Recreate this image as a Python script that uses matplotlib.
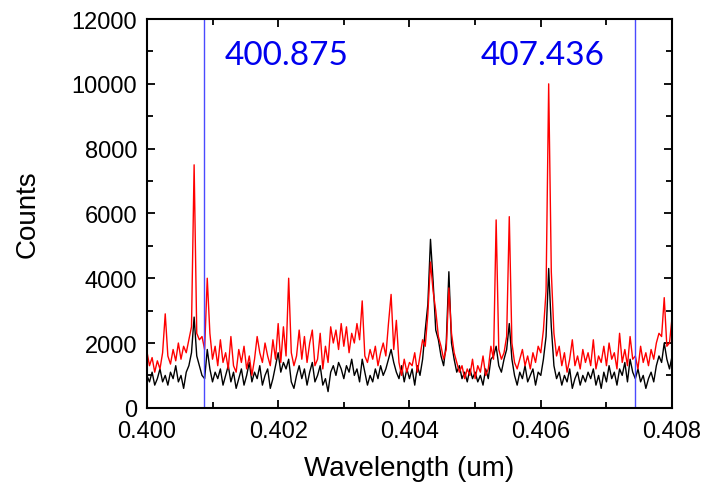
import numpy as np
import matplotlib
matplotlib.use("Agg")
import matplotlib.pyplot as plt
from matplotlib.ticker import MultipleLocator

# wavelength grid (um), one sample every 0.00004 um
wavelength = 0.400 + 0.00004 * np.arange(201)

red_counts = [
    1750, 1300, 1550, 1100, 1450, 1200, 1700, 2900, 1600, 1350,
    1800, 1450, 2000, 1500, 1900, 1700, 2100, 2500, 7500, 2300,
    2100, 2200, 1800, 4000, 2300, 1500, 1900, 1300, 2100, 1400,
    1700, 1200, 2200, 1300, 1100, 1800, 1400, 1900, 1200, 1600,
    1000, 1500, 2200, 1700, 1400, 2000, 1600, 1300, 2100, 1500,
    2600, 1400, 2500, 1600, 4000, 1700, 1300, 1600, 2400, 1500,
    2200, 1400, 2000, 2400, 1300, 1500, 2300, 1200, 1900, 1400,
    2500, 2000, 2400, 1800, 2600, 1900, 2500, 1700, 2300, 2000,
    2600, 2100, 3300, 1600, 1400, 1800, 1500, 1900, 1300, 1700,
    2000, 1600, 2600, 3500, 1800, 2700, 1400, 1000, 1500, 1100,
    1400, 1300, 1700, 1100, 1600, 2100, 1900, 2900, 4500, 3600,
    3000, 2200, 1900, 1500, 1800, 3700, 2300, 1700, 1400, 1100,
    1300, 900, 1200, 1000, 1500, 900, 1300, 1100, 1600, 1000,
    1200, 1900, 1500, 5800, 1800, 1500, 1700, 2200, 5900, 2000,
    1400, 1200, 1500, 1800, 1300, 1600, 1200, 1700, 1400, 1900,
    1700, 2400, 3600, 10000, 4200, 2300, 1600, 1900, 1300, 1700,
    1100, 1500, 2100, 1300, 1600, 1200, 1800, 1400, 1700, 1300,
    2100, 1200, 1600, 1400, 1900, 1300, 2000, 1500, 1700, 1200,
    2300, 1400, 1800, 1300, 2200, 1500, 1600, 1200, 1900, 1400,
    1700, 1300, 1800, 1500, 2000, 2300, 2200, 3400, 1900, 2000,
    2800,
]

black_counts = [
    1000, 800, 1100, 700, 900, 1200, 800, 1000, 700, 1100,
    900, 1300, 800, 1000, 600, 1100, 1300, 1700, 2800, 1600,
    1300, 1000, 900, 1800, 1200, 800, 1100, 900, 1200, 700,
    1000, 1300, 800, 1100, 600, 900, 1200, 700, 1000, 1400,
    800, 1100, 900, 1300, 700, 1000, 1200, 600, 900, 1300,
    1700, 1100, 1400, 1200, 1500, 800, 600, 1000, 1300, 900,
    1200, 700, 1100, 1400, 800, 1000, 1300, 700, 900, 500,
    1100, 1300, 1000, 1400, 1200, 900, 1300, 1100, 1500, 1000,
    1200, 800, 1500, 1100, 700, 1000, 800, 1200, 900, 1300,
    1000, 1200, 1500, 1800, 1400, 1100, 900, 1300, 800, 1200,
    900, 1200, 700, 1300, 1000, 1500, 2400, 3200, 5200, 3900,
    2400, 2100, 1600, 1300, 2000, 4200, 2000, 1500, 1100, 1300,
    900, 1100, 800, 1200, 900, 1100, 800, 1000, 700, 1200,
    900, 1500, 1600, 1900, 1300, 1100, 1500, 1800, 2600, 1500,
    1000, 700, 1100, 900, 1300, 800, 1000, 1200, 700, 1100,
    1000, 1500, 2200, 4300, 2500, 1300, 900, 1100, 700, 1000,
    800, 1200, 600, 900, 1100, 700, 1000, 800, 1100, 900,
    1200, 700, 1000, 600, 1100, 800, 1300, 900, 1100, 700,
    1200, 1000, 1400, 800, 1500, 1100, 900, 1200, 800, 1000,
    600, 900, 1100, 800, 1300, 1600, 1400, 2000, 1500, 1200,
    1600,
]

marker_lines = [0.400875, 0.407436]
marker_labels = ["400.875", "407.436"]
label_x = [0.40119, 0.405084]
label_y = 10600

plt.rcParams['font.family'] = ['Liberation Sans', 'DejaVu Sans']

fig = plt.figure(figsize=(7.06, 4.89), dpi=100)
ax = fig.add_axes([0.208, 0.164, 0.744, 0.795])

ax.plot(wavelength, black_counts, color='black', lw=1.0)
ax.plot(wavelength, red_counts, color='red', lw=1.0)

for xv in marker_lines:
    ax.axvline(xv, color='#4a4aff', lw=1.0)
for xt, txt in zip(label_x, marker_labels):
    ax.text(xt, label_y, txt, color='#0000ee', fontsize=24,
            family=['Lato', 'DejaVu Sans'], va='baseline', ha='left')

ax.set_xlim(0.400, 0.408)
ax.set_ylim(0, 12000)
ax.xaxis.set_major_locator(MultipleLocator(0.002))
ax.xaxis.set_minor_locator(MultipleLocator(0.001))
ax.yaxis.set_major_locator(MultipleLocator(2000))
ax.yaxis.set_minor_locator(MultipleLocator(1000))
ax.set_xticklabels([f"{v:.3f}" for v in ax.get_xticks()])
ax.tick_params(which='both', direction='in', top=True, right=True,
               labelsize=17, width=1.3)
ax.tick_params(which='major', length=6)
ax.tick_params(which='minor', length=4)
ax.tick_params(axis='x', pad=9)
ax.tick_params(axis='y', pad=7)
for sp in ax.spines.values():
    sp.set_linewidth(1.5)

ax.set_xlabel("Wavelength (um)", fontsize=20, labelpad=9)
ax.set_ylabel("Counts", fontsize=20, labelpad=22)

fig.savefig("out.png", dpi=100)
